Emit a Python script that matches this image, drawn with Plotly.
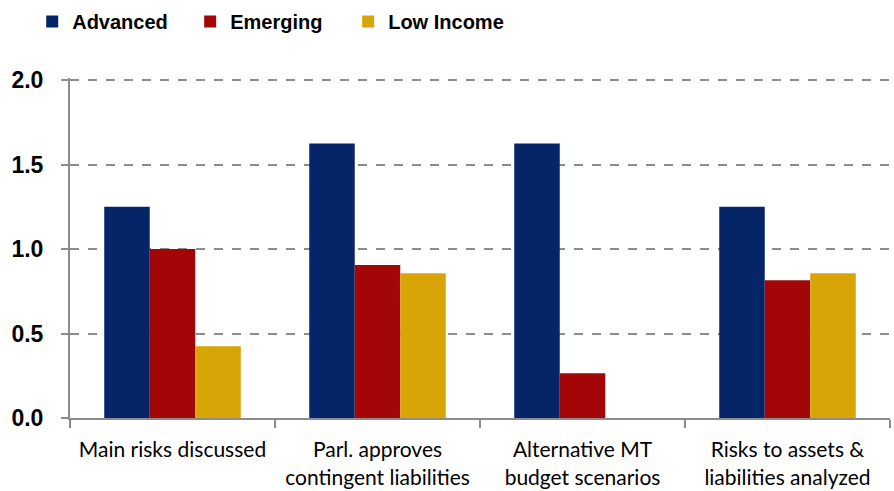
import plotly.graph_objects as go

categories = [
    'Main risks discussed',
    'Parl. approves<br>contingent liabilities',
    'Alternative MT<br>budget scenarios',
    'Risks to assets &<br>liabilities analyzed',
]
advanced = [1.25, 1.625, 1.625, 1.25]
emerging = [1.0, 0.905, 0.265, 0.815]
low_income = [0.425, 0.857, 0.0, 0.857]

colors = {'Advanced': '#062568', 'Emerging': '#A30606', 'Low Income': '#D8A406'}

fig = go.Figure()
for name, vals in [('Advanced', advanced), ('Emerging', emerging), ('Low Income', low_income)]:
    fig.add_trace(go.Bar(x=categories, y=vals, name=name,
                         marker=dict(color=colors[name], line=dict(width=0))))

fig.update_layout(
    width=894, height=491,
    margin=dict(l=70, r=4, t=78, b=73, autoexpand=False),
    barmode='group', bargap=0.334, bargroupgap=0,
    plot_bgcolor='white', paper_bgcolor='white',
    font=dict(family='Arial, Liberation Sans', color='black'),
    legend=dict(orientation='h', xref='container', x=0.036, xanchor='left',
                yref='container', y=0.996, yanchor='top', entrywidth=113,
                font=dict(size=20, family='Arial, Liberation Sans', weight='bold')),
    showlegend=True,
)

fig.update_xaxes(showline=True, linecolor='#8c8c8c', linewidth=2, automargin=False,
                 ticks='outside', tickson='boundaries', ticklen=8, tickcolor='#8c8c8c', tickwidth=2,
                 tickfont=dict(size=21, family='Lato, Calibri, Open Sans'),
                 ticklabelstandoff=12, showgrid=False)
# range a touch above 2.0 so the top dashed gridline is not clipped
fig.update_yaxes(range=[0, 2.012], tickvals=[0, 0.5, 1.0, 1.5, 2.0], tickformat='.1f',
                 showline=True, linecolor='#8c8c8c', linewidth=2, automargin=False,
                 ticks='outside', ticklen=7, tickcolor='#8c8c8c', tickwidth=2,
                 showgrid=True, gridcolor='#8c8c8c', gridwidth=2, griddash='dash',
                 zeroline=False,
                 tickfont=dict(size=23, weight='bold'), ticklabelstandoff=13)

# page body has a default 8px margin; drop it so the figure fills the window
fig.write_html("out.html", config={'displayModeBar': False},
               post_script="document.body.style.margin='0';")
